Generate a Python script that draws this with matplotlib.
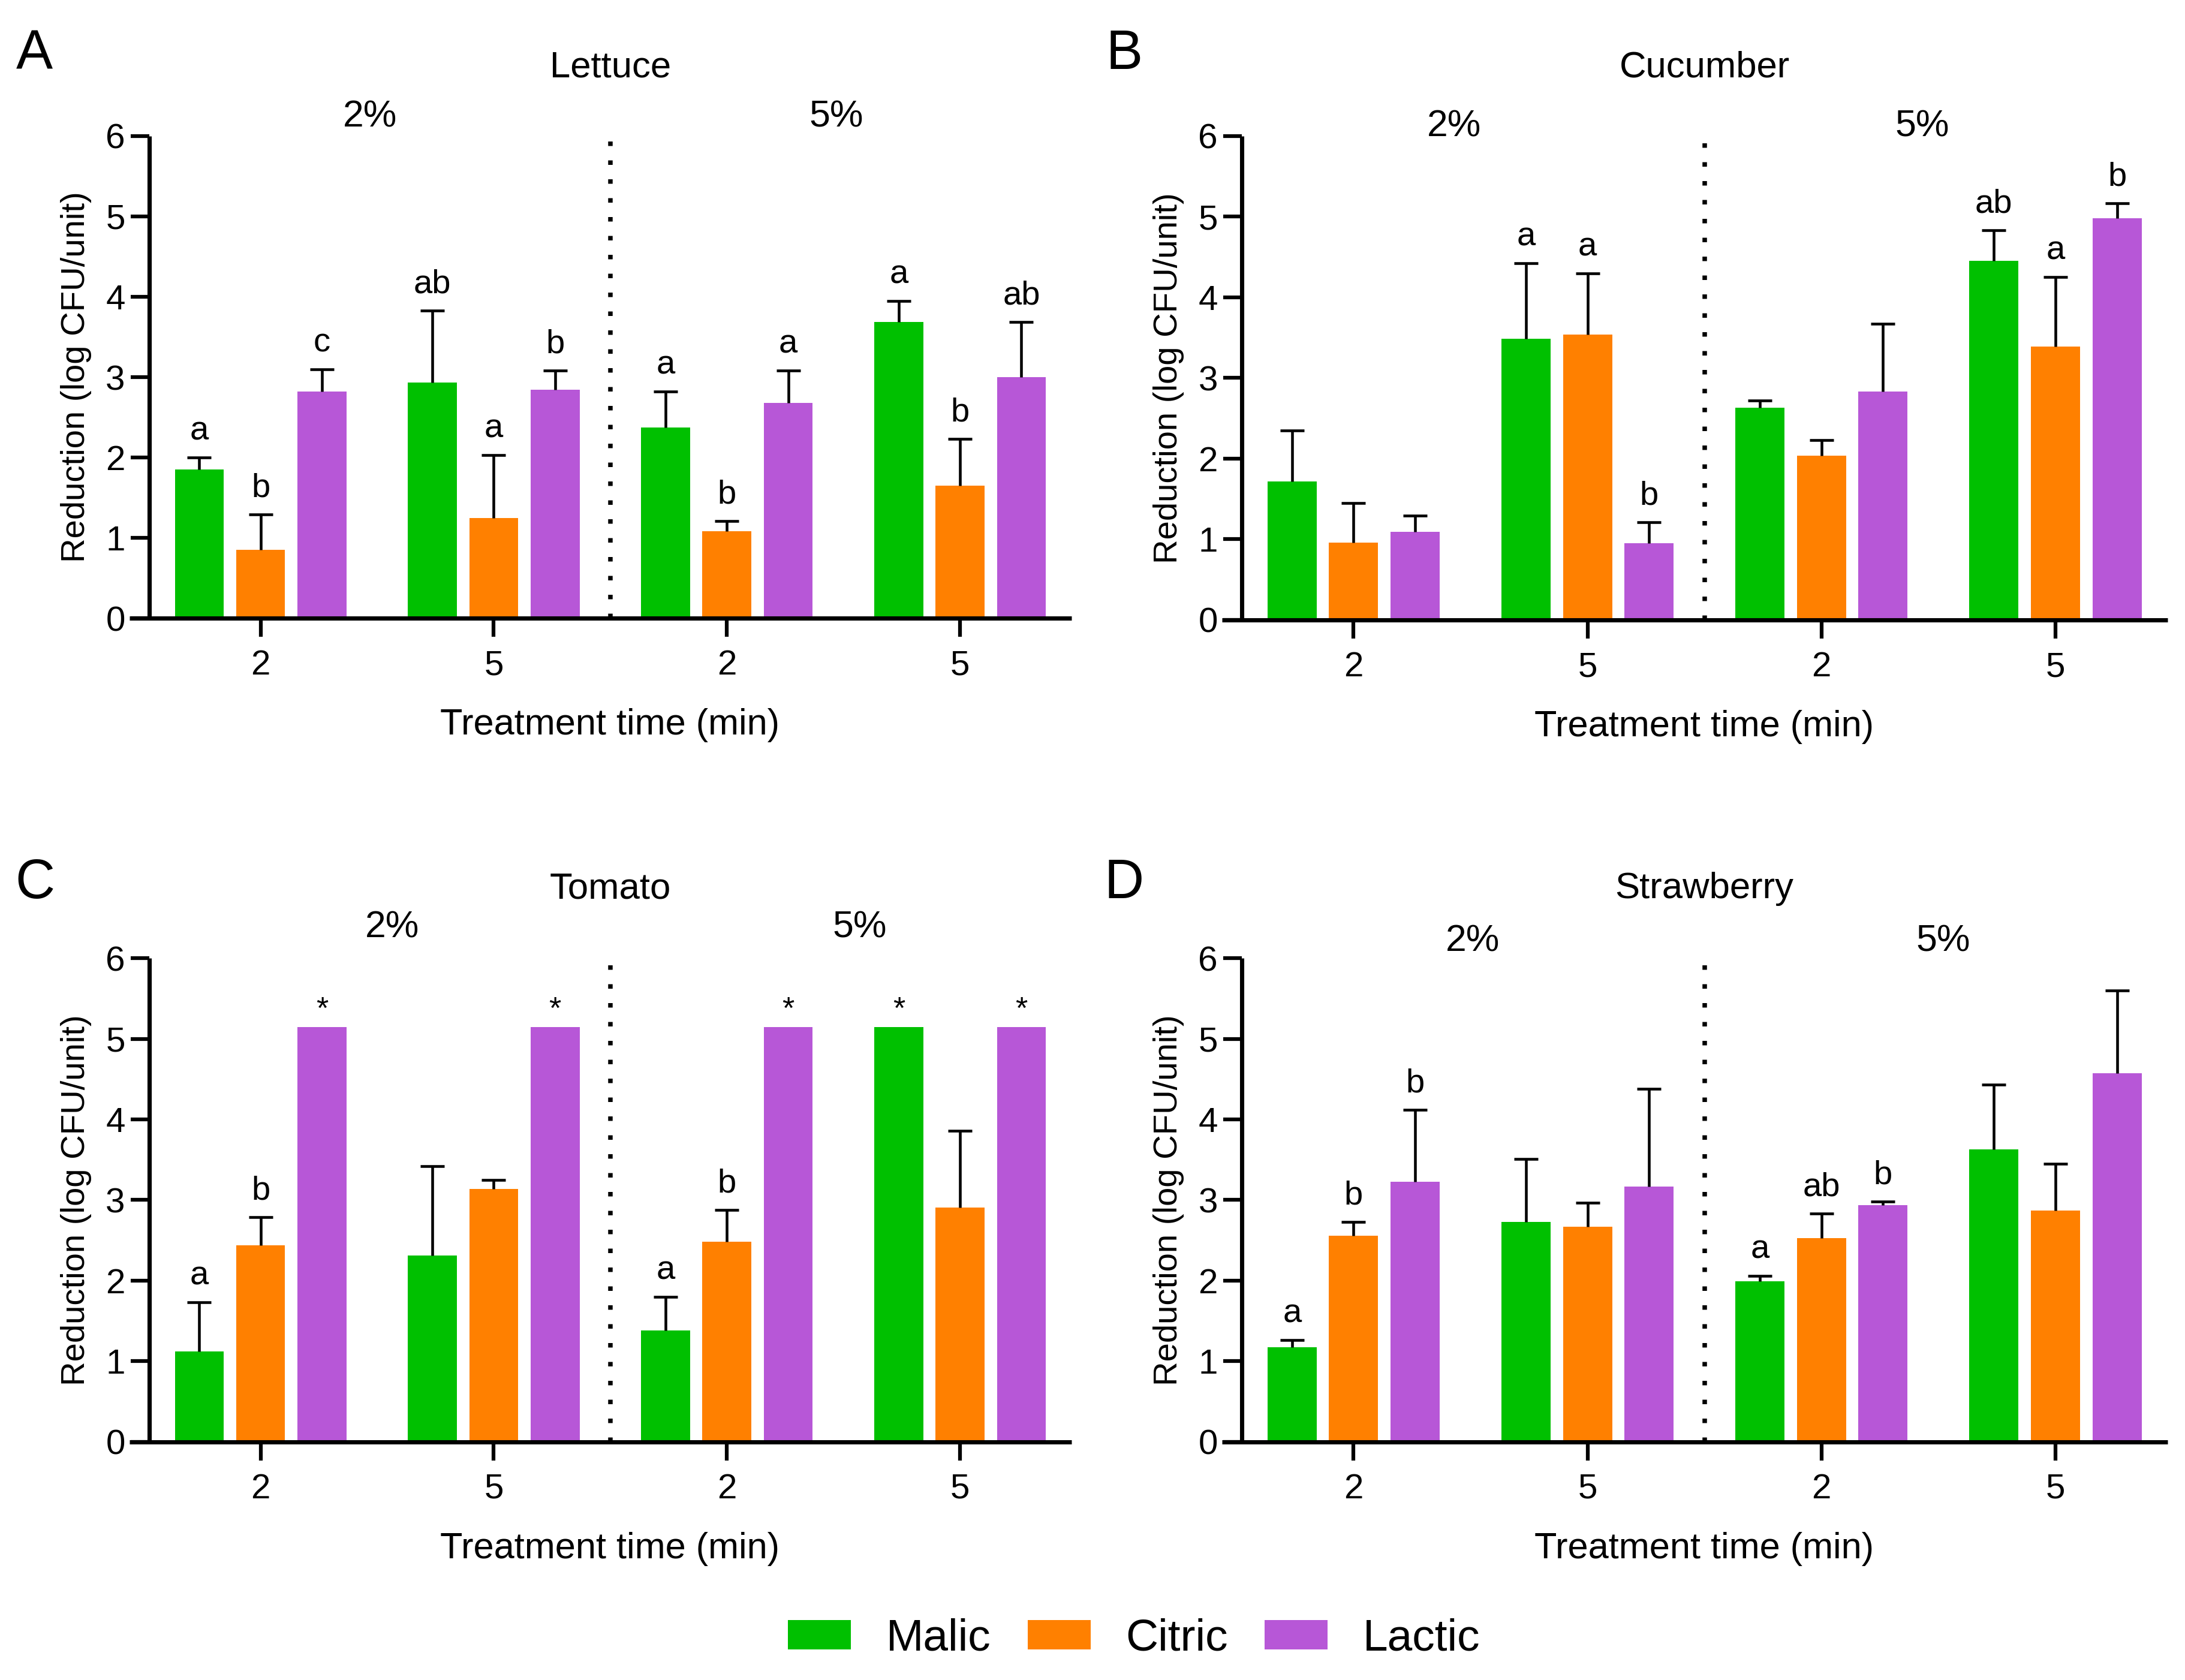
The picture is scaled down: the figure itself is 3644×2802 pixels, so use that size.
import numpy as np
import matplotlib.pyplot as plt
from matplotlib.patches import Patch

plt.rcParams["font.family"] = ["Liberation Sans", "DejaVu Sans"]

# Data
# ----
acids = ["Malic", "Citric", "Lactic"]
colors = ["#00C000", "#FF8000", "#B757D7"]
tick_labels = ["2", "5", "2", "5"]
conc_labels = ["2%", "5%"]
panels = ["A", "B", "C", "D"]
produce = ["Lettuce", "Cucumber", "Tomato", "Strawberry"]

# order within each series: 2% 2 min, 2% 5 min, 5% 2 min, 5% 5 min
lettuce_mean = [[1.85, 2.93, 2.37, 3.69],
                [0.85, 1.25, 1.08, 1.65],
                [2.82, 2.84, 2.68, 3.00]]
lettuce_sd = [[0.15, 0.90, 0.45, 0.26],
              [0.44, 0.78, 0.13, 0.58],
              [0.28, 0.24, 0.40, 0.69]]
lettuce_letters = [["a", "ab", "a", "a"],
                   ["b", "a", "b", "b"],
                   ["c", "b", "a", "ab"]]

cucumber_mean = [[1.72, 3.49, 2.63, 4.45],
                 [0.96, 3.54, 2.04, 3.39],
                 [1.09, 0.95, 2.83, 4.98]]
cucumber_sd = [[0.63, 0.93, 0.09, 0.38],
               [0.49, 0.76, 0.19, 0.86],
               [0.20, 0.26, 0.84, 0.19]]
cucumber_letters = [["", "a", "", "ab"],
                    ["", "a", "", "a"],
                    ["", "b", "", "b"]]

tomato_mean = [[1.12, 2.31, 1.38, 5.15],
               [2.44, 3.14, 2.48, 2.91],
               [5.15, 5.15, 5.15, 5.15]]
tomato_sd = [[0.61, 1.11, 0.42, np.nan],
             [0.35, 0.11, 0.40, 0.95],
             [np.nan, np.nan, np.nan, np.nan]]
tomato_letters = [["a", "", "a", "*"],
                  ["b", "", "b", ""],
                  ["*", "*", "*", "*"]]

strawberry_mean = [[1.17, 2.73, 1.99, 3.63],
                   [2.56, 2.67, 2.53, 2.87],
                   [3.23, 3.17, 2.94, 4.57]]
strawberry_sd = [[0.09, 0.78, 0.07, 0.80],
                 [0.17, 0.30, 0.30, 0.58],
                 [0.89, 1.21, 0.04, 1.03]]
strawberry_letters = [["a", "", "a", ""],
                      ["b", "", "ab", ""],
                      ["b", "", "b", ""]]

means = [lettuce_mean, cucumber_mean, tomato_mean, strawberry_mean]
sds = [lettuce_sd, cucumber_sd, tomato_sd, strawberry_sd]
letters = [lettuce_letters, cucumber_letters, tomato_letters, strawberry_letters]

# Layout
# ------
axes_rect = [
    [0.0593, 0.632, 0.4312, 0.287],
    [0.5593, 0.631, 0.4327, 0.288],
    [0.0593, 0.1418, 0.4312, 0.2878],
    [0.5593, 0.1418, 0.4327, 0.2878],
]
letter_pos = [(0.0157, 0.9675), (0.5145, 0.9675), (0.016, 0.474), (0.5145, 0.474)]
# (x of 2%, x of 5%, y) in data units
conc_pos = [(0.47, 2.47, 6.24), (0.43, 2.43, 6.12),
            (0.565, 2.57, 6.38), (0.51, 2.52, 6.21)]
title_y = [6.85, 6.85, 6.86, 6.86]

bar_w = 0.21
offset = 0.263
lw = 1.7

fig = plt.figure(figsize=(3644 / 300, 2802 / 300), dpi=300)

x = np.arange(4)

for p in range(4):
    ax = fig.add_axes(axes_rect[p])
    for k in range(3):
        xs = x + (k - 1) * offset
        m = np.array(means[p][k])
        s = np.array(sds[p][k])
        ax.bar(xs, m, width=bar_w, color=colors[k], zorder=2)
        eb = ax.errorbar(
            xs, m, yerr=[np.zeros_like(s), s],
            fmt="none", ecolor="black", elinewidth=1.1,
            capsize=4.8, capthick=1.1, zorder=3,
        )
        # only the upper cap is shown
        eb[1][0].set_visible(False)
        for i in range(4):
            lab = letters[p][k][i]
            if not lab:
                continue
            top = m[i] + (0 if np.isnan(s[i]) else s[i])
            if lab == "*":
                ax.text(xs[i], top + 0.1, lab, ha="center", va="baseline",
                        fontsize=12.5)
            else:
                ax.text(xs[i], top + 0.22, lab, ha="center", va="baseline",
                        fontsize=13.5)

    # dotted separator between concentrations
    ax.plot([1.5, 1.5], [0, 6], color="black", linestyle=(0, (1, 3.2)),
            linewidth=1.8, zorder=1)

    ax.set_xlim(-0.562, 3.479)
    ax.set_ylim(0, 6)
    ax.set_xticks(x)
    ax.set_xticklabels(tick_labels)
    ax.set_yticks(range(7))

    ax.spines["top"].set_visible(False)
    ax.spines["right"].set_visible(False)
    ax.spines["left"].set_position(("data", -0.477))
    ax.spines["left"].set_bounds(0, 6)
    for sp in ("left", "bottom"):
        ax.spines[sp].set_linewidth(lw)
        ax.spines[sp].set_capstyle("butt")
    ax.tick_params(axis="both", direction="out", length=7.5, width=1.5,
                   labelsize=14)
    ax.tick_params(axis="y", pad=2.2)
    ax.tick_params(axis="x", pad=5)

    ax.set_ylabel("Reduction (log CFU/unit)", fontsize=13.5)
    ax.yaxis.set_label_coords(-0.040, 0.5)
    ax.set_xlabel("Treatment time (min)", fontsize=14.7)
    ax.xaxis.set_label_coords(0.51, -0.186)

    c2, c5, cy = conc_pos[p]
    ax.text(c2, cy, conc_labels[0], ha="center", va="center", fontsize=15,
            clip_on=False)
    ax.text(c5, cy, conc_labels[1], ha="center", va="center", fontsize=15,
            clip_on=False)
    ax.text(1.5, title_y[p], produce[p], ha="center", va="center",
            fontsize=14.8, clip_on=False)

    fig.text(*letter_pos[p], panels[p], ha="center", va="center", fontsize=22)

handles = [Patch(facecolor=c, edgecolor="none") for c in colors]
fig.legend(
    handles, acids,
    loc="center", bbox_to_anchor=(0.519, 0.0245),
    ncol=3, frameon=False, fontsize=18,
    handlelength=1.4, handleheight=0.62,
    handletextpad=0.78, columnspacing=0.82,
)

fig.savefig("out.png", dpi=300)
